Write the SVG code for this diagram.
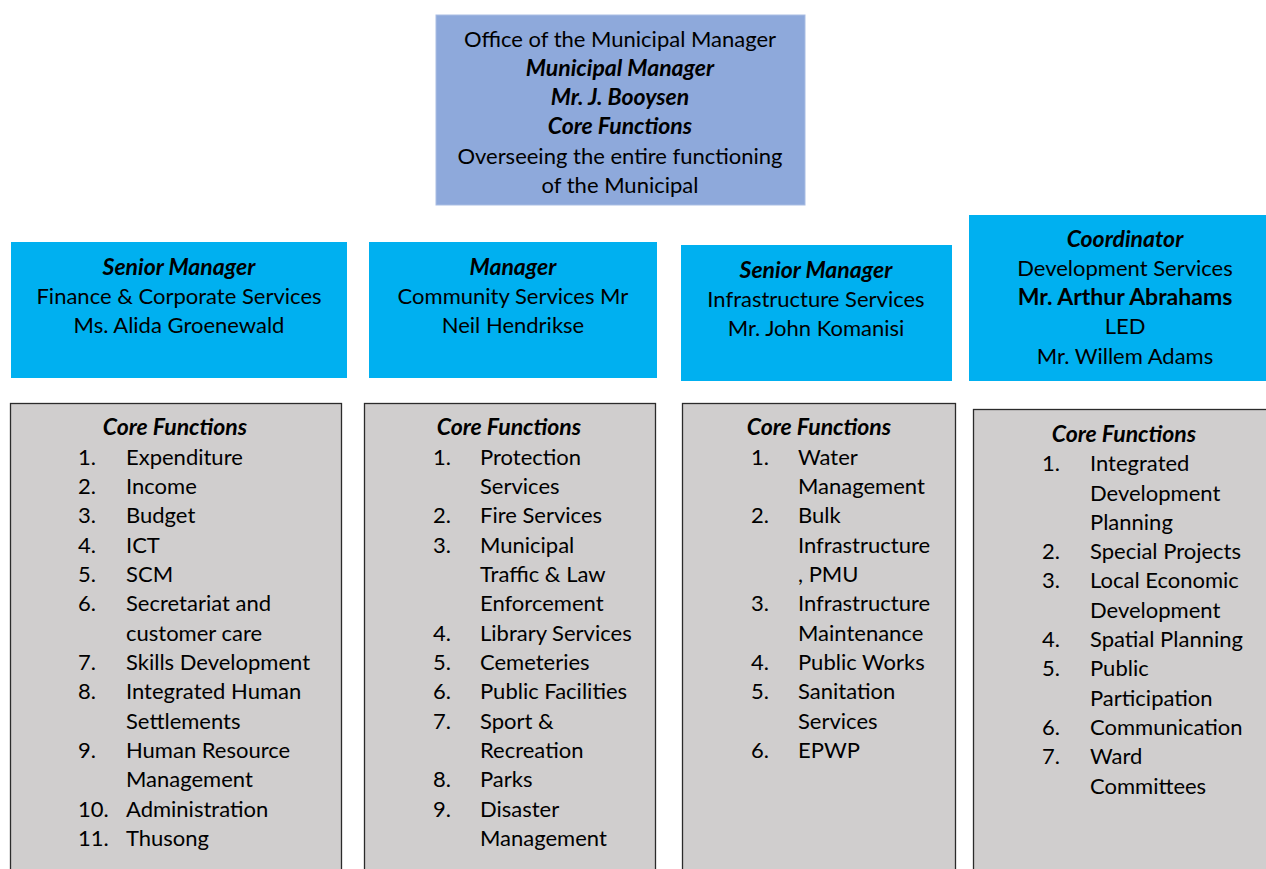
<svg xmlns="http://www.w3.org/2000/svg" width="1266" height="869" viewBox="0 0 1266 869">
<style>
text{font-family:Lato,"Open Sans","Liberation Sans",sans-serif;font-size:22px;fill:#000}
.c{text-anchor:middle}
.bi{font-weight:bold;font-style:italic;font-size:23px}
.b{font-weight:bold;font-size:23px}
.top{fill:#8EA9DB;stroke:#A9BDE3;stroke-width:1}
.blue{fill:#00B0F0}
.grey{fill:#D0CECE;stroke:#2B2B2B;stroke-width:1.3}
</style>
<rect width="1266" height="869" fill="#fff"/>
<g id="connectors"></g>
<g id="mm">
<rect class="top" x="436" y="15" width="369" height="190"/>
<text class="c" x="620" y="47">Office of the Municipal Manager</text>
<text class="c bi" x="620" y="76">Municipal Manager</text>
<text class="c bi" x="620" y="105">Mr. J. Booysen</text>
<text class="c bi" x="620" y="134">Core Functions</text>
<text class="c" x="620" y="164">Overseeing the entire functioning</text>
<text class="c" x="620" y="193">of the Municipal</text>
</g>
<g id="finance">
<rect class="blue" x="11" y="242" width="336" height="136"/>
<text class="c bi" x="179" y="275">Senior Manager</text>
<text class="c" x="179" y="304">Finance &amp; Corporate Services</text>
<text class="c" x="179" y="333">Ms. Alida Groenewald</text>
</g>
<g id="community">
<rect class="blue" x="369" y="242" width="288" height="136"/>
<text class="c bi" x="513" y="275">Manager</text>
<text class="c" x="513" y="304">Community Services Mr</text>
<text class="c" x="513" y="333">Neil Hendrikse</text>
</g>
<g id="infrastructure">
<rect class="blue" x="681" y="245" width="271" height="136"/>
<text class="c bi" x="816" y="278">Senior Manager</text>
<text class="c" x="816" y="307">Infrastructure Services</text>
<text class="c" x="816" y="336">Mr. John Komanisi</text>
</g>
<g id="development">
<rect class="blue" x="969" y="215" width="297" height="166"/>
<text class="c bi" x="1125" y="247">Coordinator</text>
<text class="c" x="1125" y="276">Development Services</text>
<text class="c b" x="1125" y="305">Mr. Arthur Abrahams</text>
<text class="c" x="1125" y="334">LED</text>
<text class="c" x="1125" y="364">Mr. Willem Adams</text>
</g>
<g id="finance-functions">
<rect class="grey" x="10.5" y="403.5" width="331" height="470"/>
<text class="c bi" x="175" y="435">Core Functions</text>
<text x="78" y="465">1.</text><text x="126" y="465">Expenditure</text>
<text x="78" y="494">2.</text><text x="126" y="494">Income</text>
<text x="78" y="523">3.</text><text x="126" y="523">Budget</text>
<text x="78" y="553">4.</text><text x="126" y="553">ICT</text>
<text x="78" y="582">5.</text><text x="126" y="582">SCM</text>
<text x="78" y="611">6.</text><text x="126" y="611">Secretariat and</text>
<text x="126" y="641">customer care</text>
<text x="78" y="670">7.</text><text x="126" y="670">Skills Development</text>
<text x="78" y="699">8.</text><text x="126" y="699">Integrated Human</text>
<text x="126" y="729">Settlements</text>
<text x="78" y="758">9.</text><text x="126" y="758">Human Resource</text>
<text x="126" y="787">Management</text>
<text x="78" y="817">10.</text><text x="126" y="817">Administration</text>
<text x="78" y="846">11.</text><text x="126" y="846">Thusong</text>
</g>
<g id="community-functions">
<rect class="grey" x="364.5" y="403.5" width="291" height="470"/>
<text class="c bi" x="509" y="435">Core Functions</text>
<text x="433" y="465">1.</text><text x="480" y="465">Protection</text>
<text x="480" y="494">Services</text>
<text x="433" y="523">2.</text><text x="480" y="523">Fire Services</text>
<text x="433" y="553">3.</text><text x="480" y="553">Municipal</text>
<text x="480" y="582">Traffic &amp; Law</text>
<text x="480" y="611">Enforcement</text>
<text x="433" y="641">4.</text><text x="480" y="641">Library Services</text>
<text x="433" y="670">5.</text><text x="480" y="670">Cemeteries</text>
<text x="433" y="699">6.</text><text x="480" y="699">Public Facilities</text>
<text x="433" y="729">7.</text><text x="480" y="729">Sport &amp;</text>
<text x="480" y="758">Recreation</text>
<text x="433" y="787">8.</text><text x="480" y="787">Parks</text>
<text x="433" y="817">9.</text><text x="480" y="817">Disaster</text>
<text x="480" y="846">Management</text>
</g>
<g id="infrastructure-functions">
<rect class="grey" x="682.5" y="403.5" width="273" height="470"/>
<text class="c bi" x="819" y="435">Core Functions</text>
<text x="751" y="465">1.</text><text x="798" y="465">Water</text>
<text x="798" y="494">Management</text>
<text x="751" y="523">2.</text><text x="798" y="523">Bulk</text>
<text x="798" y="553">Infrastructure</text>
<text x="798" y="582">, PMU</text>
<text x="751" y="611">3.</text><text x="798" y="611">Infrastructure</text>
<text x="798" y="641">Maintenance</text>
<text x="751" y="670">4.</text><text x="798" y="670">Public Works</text>
<text x="751" y="699">5.</text><text x="798" y="699">Sanitation</text>
<text x="798" y="729">Services</text>
<text x="751" y="758">6.</text><text x="798" y="758">EPWP</text>
</g>
<g id="development-functions">
<rect class="grey" x="973.5" y="409.5" width="300" height="470"/>
<text class="c bi" x="1124" y="442">Core Functions</text>
<text x="1042" y="471">1.</text><text x="1090" y="471">Integrated</text>
<text x="1090" y="501">Development</text>
<text x="1090" y="530">Planning</text>
<text x="1042" y="559">2.</text><text x="1090" y="559">Special Projects</text>
<text x="1042" y="588">3.</text><text x="1090" y="588">Local Economic</text>
<text x="1090" y="618">Development</text>
<text x="1042" y="647">4.</text><text x="1090" y="647">Spatial Planning</text>
<text x="1042" y="676">5.</text><text x="1090" y="676">Public</text>
<text x="1090" y="706">Participation</text>
<text x="1042" y="735">6.</text><text x="1090" y="735">Communication</text>
<text x="1042" y="764">7.</text><text x="1090" y="764">Ward</text>
<text x="1090" y="794">Committees</text>
</g>
</svg>
